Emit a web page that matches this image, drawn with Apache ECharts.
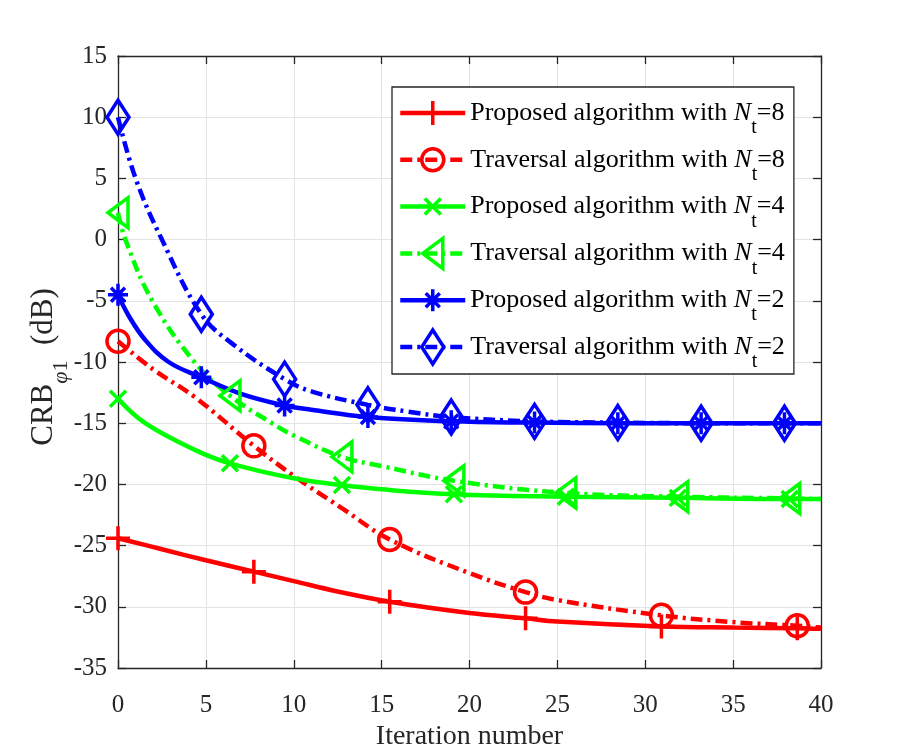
<!DOCTYPE html>
<html>
<head>
<meta charset="utf-8">
<title>CRB vs iteration</title>
<script src="https://cdn.jsdelivr.net/npm/echarts@6/dist/echarts.min.js"></script>
<style>
  html, body { margin: 0; padding: 0; background: #fff; }
  #main { width: 906px; height: 751px; }
</style>
</head>
<body>
<div id="main"></div>
<script>
// 坐标轴刻度
const xTicks = [0, 5, 10, 15, 20, 25, 30, 35, 40];
const yTicks = [-35, -30, -25, -20, -15, -10, -5, 0, 5, 10, 15];

// Nt=8, 红色
const iterP8 = [0, 2.5, 5, 7.73, 10, 12.5, 15.46, 20, 23.19, 25, 30.92, 35, 38.65, 40];
const crbP8 = [-24.4, -25.3, -26.2, -27.13, -27.9, -28.75, -29.58, -30.5, -30.94, -31.2, -31.6, -31.7, -31.75, -31.8];
const markP8 = [0, 3, 6, 8, 10, 12];

const iterT8 = [0, 2, 4.4, 7.73, 10, 12.8, 15.46, 20, 23.19, 25, 30.92, 35, 38.65, 40];
const crbT8 = [-8.3, -10.6, -12.9, -16.85, -19.3, -22.0, -24.5, -27.25, -28.8, -29.45, -30.7, -31.25, -31.55, -31.7];
const markT8 = [0, 3, 6, 8, 10, 12];

// Nt=4, 绿色
const iterP4 = [0, 1.55, 4.4, 6.37, 10, 12.74, 15, 19.11, 25.48, 31.85, 38.22, 40];
const crbP4 = [-13.0, -15.0, -17.2, -18.28, -19.5, -20.05, -20.4, -20.8, -21.0, -21.1, -21.2, -21.2];
const markP4 = [0, 3, 5, 7, 8, 9, 10];

const iterT4 = [0, 0.42, 1.95, 4.35, 6.37, 8.76, 10, 12.74, 15, 19.11, 25.48, 31.85, 38.22, 40];
const crbT4 = [2.2, 0, -5, -10, -12.75, -15.0, -16.0, -17.75, -18.5, -19.7, -20.7, -21.0, -21.15, -21.2];
const markT4 = [0, 4, 7, 9, 10, 11, 12];

// Nt=2, 蓝色
const iterP2 = [0, 0.6, 1.55, 2.88, 4.74, 7, 9.48, 11, 14.22, 18.96, 23.7, 28.44, 33.18, 37.92, 40];
const crbP2 = [-4.5, -6.2, -8.2, -10, -11.25, -12.6, -13.55, -13.9, -14.5, -14.85, -14.95, -15, -15, -15, -15];
const markP2 = [0, 4, 6, 8, 9, 10, 11, 12, 13];

const iterT2 = [0, 1, 2.5, 4.74, 6.5, 9.48, 11, 14.22, 16.5, 18.96, 23.7, 28.44, 33.18, 37.92, 40];
const crbT2 = [10, 5, 0, -6.1, -8.5, -11.4, -12.4, -13.5, -14.05, -14.5, -14.85, -14.95, -15, -15, -15];
const markT2 = [0, 3, 5, 7, 9, 10, 11, 12, 13];

const legendAlgo = ['Proposed', 'Traversal', 'Proposed', 'Traversal', 'Proposed', 'Traversal'];
const legendNt = [8, 8, 4, 4, 2, 2];

const serif = "'Liberation Serif', 'Times New Roman', serif";
const axisColor = '#262626';
const dashDot = [12, 5, 3, 5];

// 标记形状, 都放在 40x40 的框里, 图例和曲线上大小一致
const frame = 'M0,0 M40,40 ';
const symPlus = 'path://' + frame + 'M20,8 L20,32 M8,20 L32,20';
const symCircle = 'path://' + frame + 'M31,20 A11,11 0 1,1 9,20 A11,11 0 1,1 31,20 Z';
const symCross = 'path://' + frame + 'M12,12 L28,28 M28,12 L12,28';
const symTri = 'path://' + frame + 'M10,20 L30,5 L30,35 Z';
const symStar = 'path://' + frame + 'M20,9 L20,31 M10,20 L30,20 M13,13 L27,27 M27,13 L13,27';
const symDiamond = 'path://' + frame + 'M20,3 L31,20 L20,37 L9,20 Z';

function legendName(i) {
  return legendAlgo[i] + ' algorithm with Nt=' + legendNt[i];
}

function buildData(xs, ys, marks) {
  return xs.map(function (x, i) {
    const item = { value: [x, ys[i]] };
    if (marks.indexOf(i) < 0) item.symbol = 'none';
    return item;
  });
}

function makeSeries(i, xs, ys, marks, color, symbol, dashed) {
  return {
    name: legendName(i),
    type: 'line',
    data: buildData(xs, ys, marks),
    smooth: 0.4,
    symbol: symbol,
    symbolSize: 40,
    clip: false,
    lineStyle: { color: color, width: 4.5, type: dashed ? dashDot : 'solid' },
    itemStyle: { color: 'rgba(0,0,0,0)', borderColor: color, borderWidth: 3.5 },
    emphasis: { disabled: true }
  };
}

const series = [
  makeSeries(0, iterP8, crbP8, markP8, '#ff0000', symPlus, false),
  makeSeries(1, iterT8, crbT8, markT8, '#ff0000', symCircle, true),
  makeSeries(2, iterP4, crbP4, markP4, '#00ff00', symCross, false),
  makeSeries(3, iterT4, crbT4, markT4, '#00ff00', symTri, true),
  makeSeries(4, iterP2, crbP2, markP2, '#0000ff', symStar, false),
  makeSeries(5, iterT2, crbT2, markT2, '#0000ff', symDiamond, true)
];

function valueAxis(pos, ticks, showLabel, grid) {
  return {
    type: 'value',
    position: pos,
    min: ticks[0],
    max: ticks[ticks.length - 1],
    interval: ticks[1] - ticks[0],
    axisLine: { show: true, onZero: false, lineStyle: { color: axisColor, width: 1.3 } },
    axisTick: { show: true, inside: true, length: 8, lineStyle: { color: axisColor, width: 1.3 } },
    axisLabel: { show: showLabel, fontFamily: serif, fontSize: 25, color: axisColor },
    splitLine: { show: grid, lineStyle: { color: '#e3e3e3', width: 1 } }
  };
}

const xBottom = valueAxis('bottom', xTicks, true, true);
xBottom.axisLabel.margin = 25;
xBottom.name = 'Iteration number';
xBottom.nameLocation = 'middle';
xBottom.nameGap = 51;
xBottom.nameTextStyle = { fontFamily: serif, fontSize: 28, color: axisColor };

const yLeft = valueAxis('left', yTicks, true, true);
yLeft.axisLabel.margin = 11;

const chart = echarts.init(document.getElementById('main'));

const option = {
  backgroundColor: '#fff',
  animation: false,
  // 固定绘图区, 不让坐标轴名字挤压网格
  grid: { left: 118, right: 85, top: 56, bottom: 83, containLabel: false, outerBoundsMode: 'none' },
  xAxis: [xBottom, valueAxis('top', xTicks, false, false)],
  yAxis: [yLeft, valueAxis('right', yTicks, false, false)],
  legend: {
    orient: 'vertical',
    left: 392,
    top: 87,
    padding: [1, 9, 2, 6],
    itemWidth: 65,
    itemHeight: 50,
    itemGap: -3.2,
    backgroundColor: '#fff',
    borderColor: axisColor,
    borderWidth: 1.3,
    borderRadius: 0,
    itemStyle: { color: 'rgba(0,0,0,0)', borderWidth: 3.5 },
    lineStyle: { width: 4.5 },
    data: series.map(function (s) { return s.name; }),
    formatter: function (name) {
      const i = series.findIndex(function (s) { return s.name === name; });
      return '{t|' + legendAlgo[i] + ' algorithm with }{n|N}{s|t}{t|=' + legendNt[i] + '}';
    },
    textStyle: {
      fontFamily: serif,
      fontSize: 26,
      color: '#000',
      rich: {
        t: { fontFamily: serif, fontSize: 26, color: '#000' },
        n: { fontFamily: serif, fontSize: 26, fontStyle: 'italic', color: '#000' },
        s: { fontFamily: serif, fontSize: 20, color: '#000', padding: [30, 0, 0, 0], lineHeight: 26 }
      }
    }
  },
  // 纵轴标题, 带下标
  graphic: [{
    type: 'text',
    x: 44,
    y: 367,
    rotation: Math.PI / 2,
    silent: true,
    style: {
      text: '{a|CRB}{p|\u03c6}{q|1}{a|  (dB)}',
      align: 'center',
      verticalAlign: 'middle',
      rich: {
        a: { fontFamily: serif, fontSize: 31, fill: axisColor, color: axisColor },
        p: { fontFamily: serif, fontSize: 22, fontStyle: 'italic', fill: axisColor, color: axisColor, padding: [34, 0, 0, 0], lineHeight: 31 },
        q: { fontFamily: serif, fontSize: 22, fill: axisColor, color: axisColor, padding: [34, 0, 0, 0], lineHeight: 31 }
      }
    }
  }],
  series: series
};

chart.setOption(option);
</script>
</body>
</html>
